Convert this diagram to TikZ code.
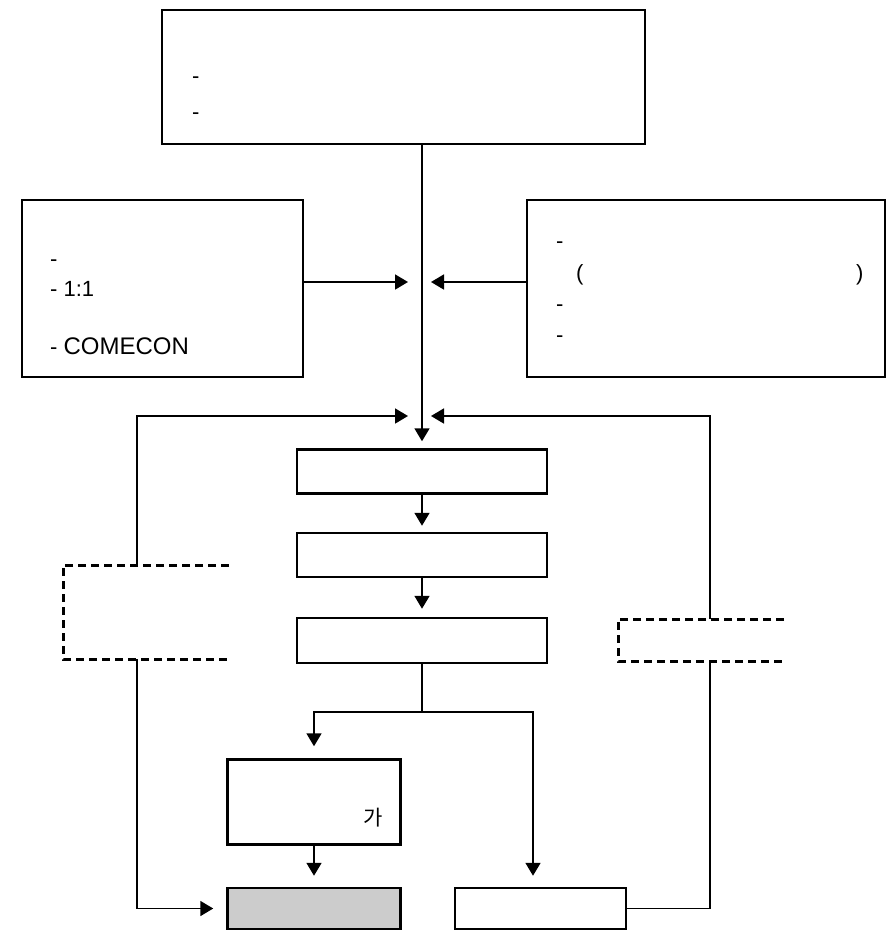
\documentclass[tikz,border=0pt]{standalone}
\usepackage{fontspec}
\setmainfont{Liberation Sans}
\newfontfamily\krfont{Noto Sans CJK KR}
\usetikzlibrary{arrows.meta}
\definecolor{shade}{HTML}{CCCCCC}

\begin{document}
\begin{tikzpicture}[x=1pt, y=-1pt,
        box/.style={draw, line width=2.5pt, inner sep=0pt},
        wire/.style={line width=1.8pt},
        flow/.style={wire, -{Triangle[length=13pt, width=15pt]}},
        dashbox/.style={line width=3pt, dash pattern=on 8pt off 5pt},
        txt/.style={anchor=base west, inner sep=0pt, font=\fontsize{22pt}{24pt}\selectfont}]
    \useasboundingbox (0, 0) rectangle (893, 935);

    %% boxes
    \node[box, minimum width=483pt, minimum height=134pt] (goal) at (403.5, 77) {};
        \node[txt] (goala) at (192, 83) {-};
        \node[txt] (goalb) at (192, 119) {-};
    \node[box, minimum width=281pt, minimum height=177pt] (extl) at (162.5, 288.5) {};
        \node[txt] (extla) at (50, 266) {-};
        \node[txt] (extlb) at (50, 296) {- 1:1};
        \node[txt] (extlc) at (50, 354) {- {\fontsize{24pt}{28pt}\selectfont COMECON}};
    \node[box, minimum width=358pt, minimum height=177pt] (extr) at (706, 288.5) {};
        \node[txt] (extra) at (556, 248) {-};
        \node[txt] (extrb) at (576, 280.5) {(};
        \node[txt] (extrc) at (856, 280.5) {)};
        \node[txt] (extrd) at (556, 311) {-};
        \node[txt] (extre) at (556, 342) {-};
    \node[box, minimum width=250pt, minimum height=44pt] (stepa) at (422, 471.5) {};
    \node[box, minimum width=250pt, minimum height=44pt] (stepb) at (422, 555) {};
    \node[box, minimum width=250pt, minimum height=45pt] (stepc) at (422, 640.5) {};
    \node[box, minimum width=173pt, minimum height=85pt] (plan) at (314, 802) {};
        \node[inner sep=0pt, font=\krfont\fontsize{21pt}{23pt}\selectfont] (plana) at (373, 818) {가};
    \node[box, fill=shade, minimum width=173pt, minimum height=41pt] (res) at (314, 908.5) {};
    \node[box, minimum width=171pt, minimum height=41pt] (out) at (540.5, 908.5) {};

    %% joints
    \coordinate (jin) at (422, 282);
    \coordinate (jfb) at (422, 416);
    \coordinate (split) at (422, 712);
    \coordinate (rb) at (533, 712);
    \coordinate (dlt) at (137, 565);
    \coordinate (dlb) at (137, 659);
    \coordinate (drt) at (710, 619);
    \coordinate (drb) at (710, 661);

    %% open dashed boxes
    \draw[dashbox] (229, 565) -- (63, 565) -- (63, 659) -- (229, 659);
    \draw[dashbox] (784, 619) -- (618, 619) -- (618, 661) -- (784, 661);

    %% arrows
    \draw[flow, shorten >=7pt] (goal.south -| stepa.north) -- (stepa.north);
    \draw[flow, shorten >=14pt] (extl.east |- jin) -- (jin);
    \draw[flow, shorten >=9pt] (extr.west |- jin) -- (jin);
    \draw[flow, shorten >=14pt] (dlt) |- (jfb);
    \draw[flow, shorten >=9pt] (drt) |- (jfb);
    \draw[flow, shorten >=6pt] (stepa.south) -- (stepb.north);
    \draw[flow, shorten >=8pt] (stepb.south) -- (stepc.north);
    \draw[wire] (stepc.south) -- (split);
    \draw[flow, shorten >=12pt] (split) -| (plan.north);
    \draw[flow, shorten >=11pt] (split) -- (rb) -- (rb |- out.north);
    \draw[flow, shorten >=11pt] (plan.south) -- (res.north);
    \draw[flow, shorten >=13pt] (dlb) |- (res.west);
    \draw[wire] (out.east) -| (drb);
\end{tikzpicture}
\end{document}
